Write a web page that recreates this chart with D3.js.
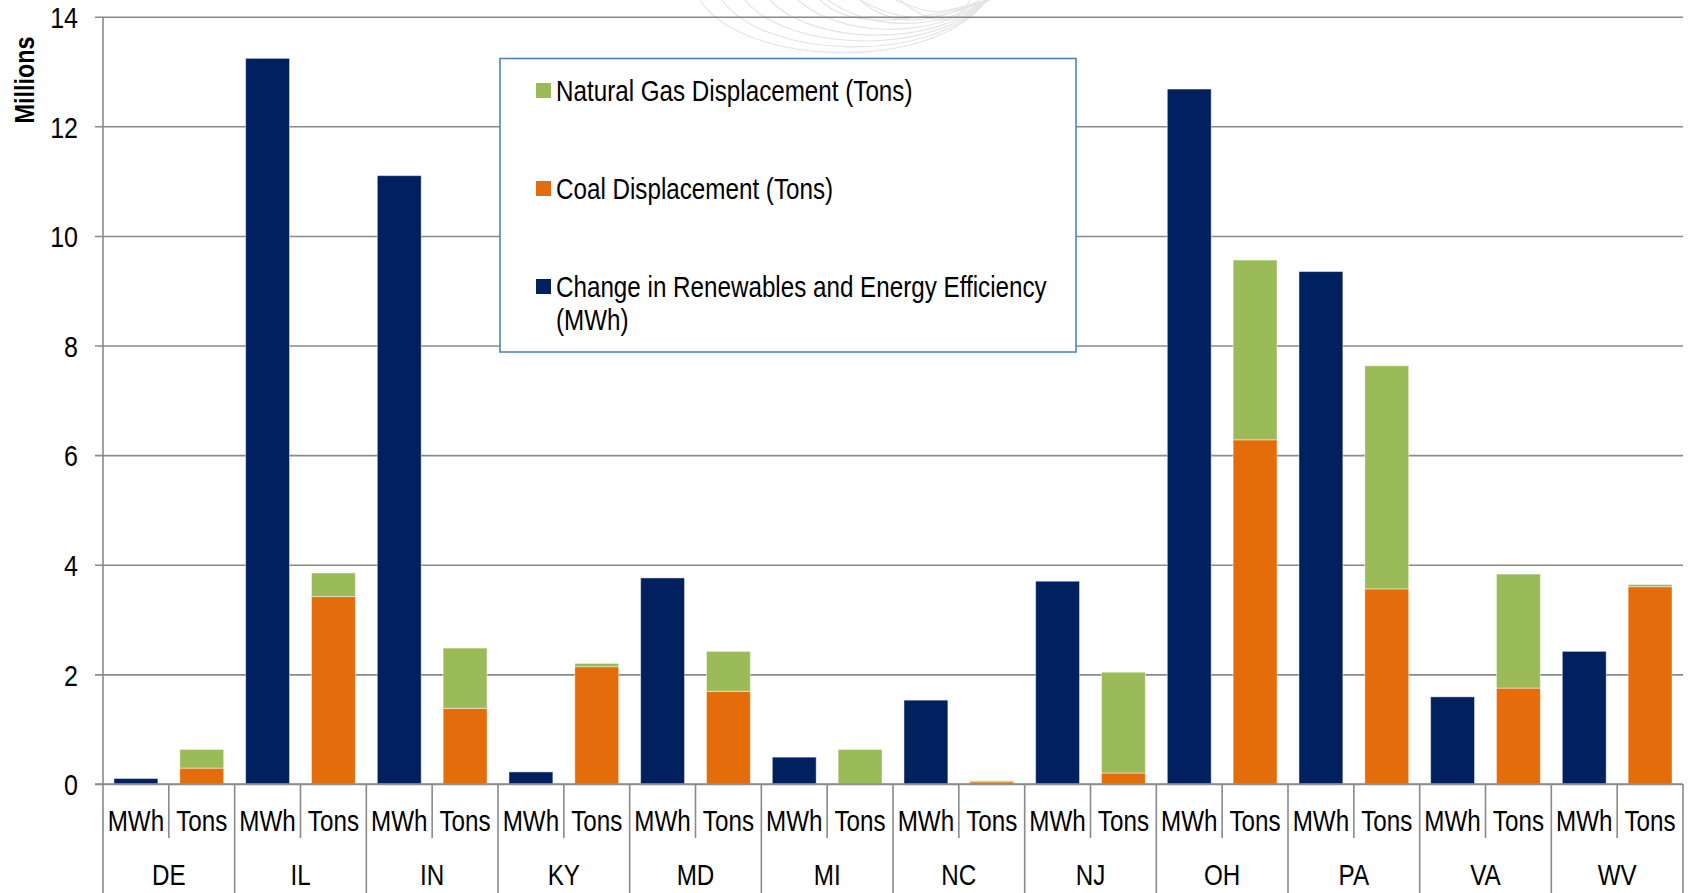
<!DOCTYPE html>
<html>
<head>
<meta charset="utf-8">
<script src="https://cdn.jsdelivr.net/npm/d3@7"></script>
<style>
  html, body { margin: 0; padding: 0; background: #ffffff; }
  svg { display: block; }
  .lbl { font-family: "Liberation Sans", Arial, sans-serif; fill: #000; }
</style>
</head>
<body>
<svg id="chart" width="1690" height="893"></svg>
<script>
// States along the category axis
const states = ["DE", "IL", "IN", "KY", "MD", "MI", "NC", "NJ", "OH", "PA", "VA", "WV"];
// Sub-category labels within each state
const subLabels = ["MWh", "Tons"];
// Change in renewables and energy efficiency (millions of MWh)
const renewablesMWh = [0.10, 13.24, 11.10, 0.22, 3.76, 0.49, 1.53, 3.70, 12.68, 9.35, 1.59, 2.42];
// Coal displacement (millions of tons)
const coalTons = [0.29, 3.42, 1.38, 2.14, 1.69, 0.00, 0.04, 0.20, 6.28, 3.56, 1.75, 3.60];
// Natural gas displacement (millions of tons)
const gasTons = [0.34, 0.43, 1.10, 0.06, 0.73, 0.63, 0.02, 1.84, 3.28, 4.07, 2.08, 0.04];
// Value axis ticks
const yTicks = [0, 2, 4, 6, 8, 10, 12, 14];
// Legend entries, top to bottom
const legendItems = [
  { key: "gas", lines: ["Natural Gas Displacement (Tons)"] },
  { key: "coal", lines: ["Coal Displacement (Tons)"] },
  { key: "mwh", lines: ["Change in Renewables and Energy Efficiency", "(MWh)"] }
];

const colors = { mwh: "#00205f", coal: "#e46c0a", gas: "#9bbb59" };
const gridColor = "#8a8a8a";
const NARROW = 0.835; // horizontal squeeze for a condensed face

const svg = d3.select("#chart");
const plotLeft = 103, plotRight = 1683, plotTop = 16.7, base = 784, plotBottom = 893;

// text helper: places a condensed label at (px, py), optionally rotated
function label(parent, px, py, str, size, anchor, rot = 0) {
  return parent.append("text").attr("class", "lbl")
    .attr("transform", `translate(${px},${py}) rotate(${rot}) scale(${NARROW},1)`)
    .attr("text-anchor", anchor).attr("dominant-baseline", "central")
    .attr("font-size", size).text(str);
}

const x = d3.scaleBand().domain(states).range([plotLeft, plotRight]).padding(0);
const xSub = d3.scaleBand().domain(subLabels).range([0, x.bandwidth()])
  .paddingInner(1 / 3).paddingOuter(1 / 6);
const y = d3.scaleLinear().domain([0, 14]).range([base, plotTop]);

// faint watermark curves behind the plot
const wm = svg.append("g").attr("fill", "none").attr("stroke", "#e4e4e4").attr("stroke-width", 1.2);
const wmStarts = [700, 722, 745, 770, 798, 828, 860, 895];
const wmDepth = [72, 64, 56, 48, 40, 32, 24, 16];
wmStarts.forEach((sx, i) => {
  const p = d3.path();
  p.moveTo(sx, 0);
  p.bezierCurveTo(sx + 40, wmDepth[i] * 0.9, 930, wmDepth[i] * 1.05, 987, 0);
  wm.append("path").attr("d", p.toString());
});
[0, 1, 2].forEach(i => {
  const p = d3.path();
  p.moveTo(820 + i * 40, 0);
  p.quadraticCurveTo(860 + i * 45, 40, 990 - i * 10, 0);
  wm.append("path").attr("d", p.toString());
});

// horizontal gridlines with small outward ticks
const yAxis = d3.axisLeft(y).tickValues(yTicks).tickSize(-(plotRight - plotLeft)).tickSizeOuter(0).tickPadding(0).tickFormat("");
const gy = svg.append("g").attr("transform", `translate(${plotLeft},0)`).call(yAxis);
gy.select(".domain").remove();
gy.selectAll(".tick line").attr("stroke", gridColor).attr("stroke-width", 1.6)
  .attr("x1", -8);

// tick labels
const tg = svg.append("g");
yTicks.forEach(t => label(tg, 78, y(t) + 1, t, 30, "end"));

// axis title
label(svg, 24, 80, "Millions", 28, "middle", -90).attr("font-weight", "bold");

// bars
const barsG = svg.append("g");
const stackData = states.map((s, i) => ({ state: s, coal: coalTons[i], gas: gasTons[i] }));
const stacked = d3.stack().keys(["coal", "gas"])(stackData);

states.forEach((s, i) => {
  barsG.append("rect")
    .attr("x", x(s) + xSub("MWh"))
    .attr("width", xSub.bandwidth())
    .attr("y", y(renewablesMWh[i]))
    .attr("height", y(0) - y(renewablesMWh[i]))
    .attr("fill", colors.mwh)
    .attr("stroke", "rgba(255,255,255,0.45)").attr("stroke-width", 1);
});
stacked.forEach(layer => {
  layer.forEach((d, i) => {
    const h = y(d[0]) - y(d[1]);
    if (h <= 0) return;
    barsG.append("rect")
      .attr("x", x(states[i]) + xSub("Tons"))
      .attr("width", xSub.bandwidth())
      .attr("y", y(d[1]))
      .attr("height", h)
      .attr("fill", colors[layer.key])
      .attr("stroke", "rgba(255,255,255,0.45)").attr("stroke-width", 1);
  });
});

// category axis: baseline, dividers and two rows of labels
const ax = svg.append("g").attr("stroke", gridColor).attr("stroke-width", 1.6);
ax.append("line").attr("x1", plotLeft - 8).attr("x2", plotRight).attr("y1", base).attr("y2", base);
ax.append("line").attr("x1", plotLeft).attr("x2", plotLeft).attr("y1", plotTop).attr("y2", plotBottom);
states.forEach(s => {
  const x0 = x(s) + x.bandwidth();
  ax.append("line").attr("x1", x0).attr("x2", x0).attr("y1", base).attr("y2", plotBottom);
  const xm = x(s) + x.bandwidth() / 2;
  ax.append("line").attr("x1", xm).attr("x2", xm).attr("y1", base).attr("y2", 838);
});

const labG = svg.append("g");
states.forEach(s => {
  subLabels.forEach(k => {
    label(labG, x(s) + xSub(k) + xSub.bandwidth() / 2, 821, k, 29, "middle");
  });
  label(labG, x(s) + x.bandwidth() / 2, 875, s, 29, "middle");
});

// legend
const lg = svg.append("g");
lg.append("rect").attr("x", 500).attr("y", 58.5).attr("width", 576).attr("height", 293.5)
  .attr("fill", "#ffffff").attr("stroke", "#4f81bd").attr("stroke-width", 1.6);
const rowY = [91, 189, 287];
legendItems.forEach((it, i) => {
  lg.append("rect").attr("x", 536).attr("y", rowY[i] - 8).attr("width", 15).attr("height", 15)
    .attr("fill", colors[it.key]);
  it.lines.forEach((ln, j) => {
    label(lg, 556, rowY[i] + j * 33, ln, 29, "start");
  });
});
</script>
</body>
</html>
